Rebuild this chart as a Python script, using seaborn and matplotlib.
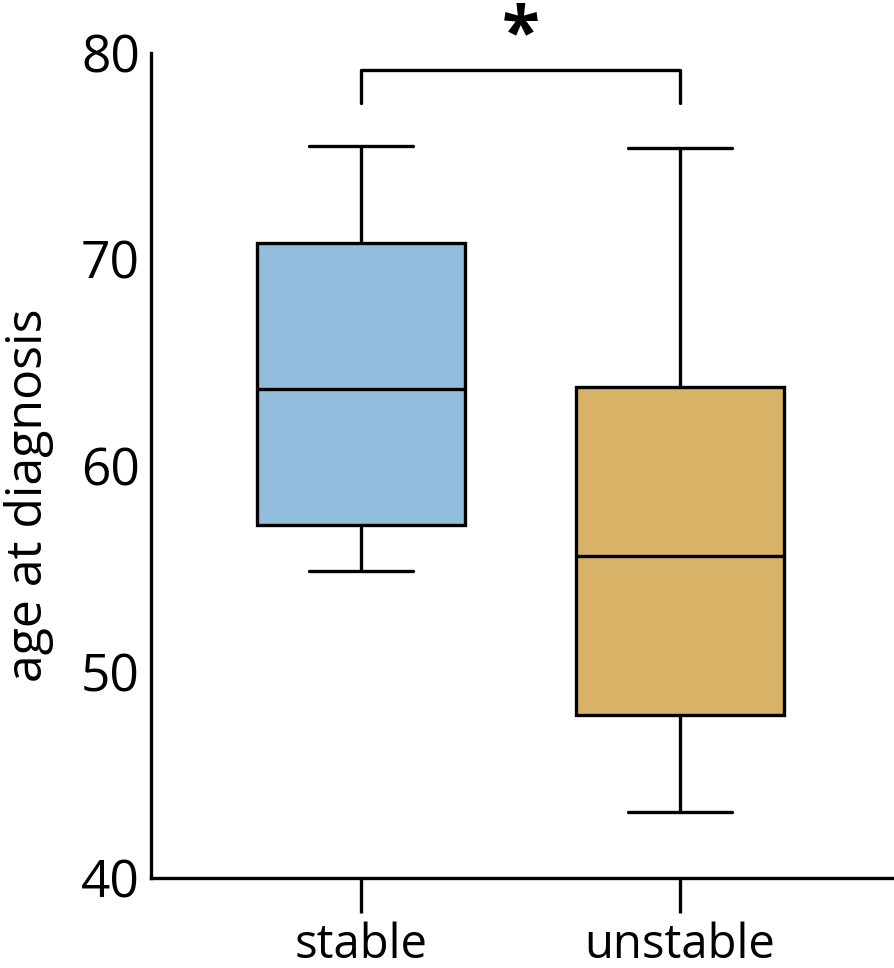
import numpy as np
import pandas as pd
import matplotlib
matplotlib.use("Agg")
import matplotlib.pyplot as plt
import seaborn as sns

# five-number summaries: low whisker, Q1, median, Q3, high whisker
groups = ["stable", "unstable"]
stable_ages = [54.9, 57.1, 63.7, 70.8, 75.5]
unstable_ages = [43.2, 47.9, 55.6, 63.8, 75.4]
colors = ["#92BDDC", "#D8B266"]
yticks = [40, 50, 60, 70, 80]

df = pd.DataFrame({
    "group": ["stable"] * len(stable_ages) + ["unstable"] * len(unstable_ages),
    "age": stable_ages + unstable_ages,
})

sns.set_theme(style="white")
plt.rcParams["font.family"] = ["Open Sans", "DejaVu Sans"]
plt.rcParams["text.color"] = "black"
plt.rcParams["xtick.color"] = "black"
plt.rcParams["ytick.color"] = "black"
plt.rcParams["axes.labelcolor"] = "black"

fig = plt.figure(figsize=(8.95, 9.68), dpi=100)
ax = fig.add_axes([0.1687, 0.093, 0.8313, 0.852])

lw = 2.4
sns.boxplot(
    data=df, x="group", y="age", hue="group", palette=colors, legend=False,
    width=0.65, linewidth=lw, linecolor="black", whis=3, fliersize=0,
    saturation=1, ax=ax,
)

ax.set_ylim(40, 80)
ax.set_xlim(-0.658, 1.674)
ax.set_yticks(yticks)
ax.set_xlabel("")
ax.set_ylabel("age at diagnosis", fontsize=36)
ax.yaxis.set_label_coords(-0.13, 0.464)
ax.tick_params(axis="y", left=False, length=0, labelsize=37, pad=8)
ax.tick_params(axis="x", bottom=True, length=25, width=lw, direction="out",
               labelsize=34, pad=6)
for side in ["top", "right"]:
    ax.spines[side].set_visible(False)
for side in ["left", "bottom"]:
    ax.spines[side].set_linewidth(lw)
    ax.spines[side].set_color("black")

# significance bracket
ax.plot([0, 0, 1, 1], [77.6, 79.2, 79.2, 77.6], color="black", lw=lw, clip_on=False)
fig.text(0.5815, 0.962, "*", ha="center", va="center", fontsize=50, fontweight="bold")

fig.savefig("out.png", dpi=100)
